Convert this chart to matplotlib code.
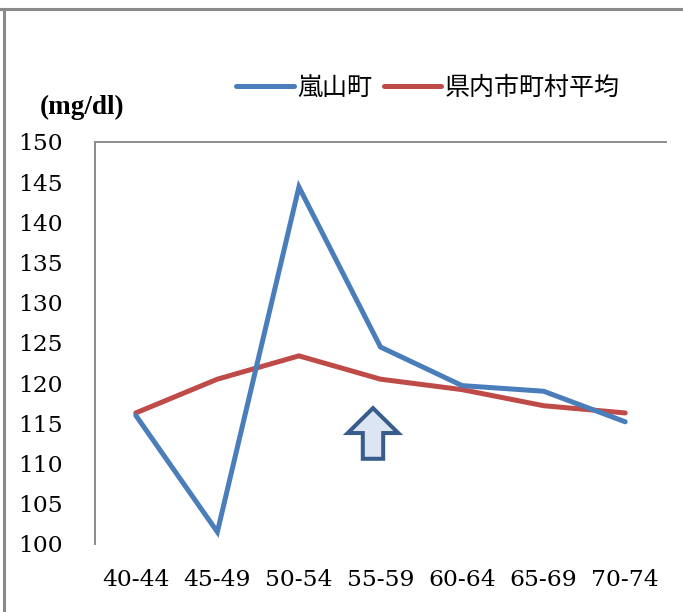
import matplotlib
matplotlib.use("Agg")
import matplotlib.pyplot as plt
from matplotlib.lines import Line2D
from matplotlib.patches import Polygon

# Age groups and average values (mg/dl)
age_groups = ["40-44", "45-49", "50-54", "55-59", "60-64", "65-69", "70-74"]
ranzan = [116.0, 101.5, 144.4, 124.5, 119.7, 119.0, 115.2]
pref_avg = [116.3, 120.5, 123.4, 120.5, 119.2, 117.2, 116.3]
series_names = ["嵐山町", "県内市町村平均"]
y_ticks = [100, 105, 110, 115, 120, 125, 130, 135, 140, 145, 150]
unit_label = "(mg/dl)"

W, H = 683, 612
fig = plt.figure(figsize=(W / 100, H / 100), dpi=100)
fig.patch.set_facecolor("white")

# outer chart frame (top and left edges)
frame_c = "#8a8a8a"
fig.add_artist(Line2D([0, 1], [1 - 9 / H, 1 - 9 / H], transform=fig.transFigure,
                      color=frame_c, lw=2.2))
fig.add_artist(Line2D([4 / W, 4 / W], [0, 1 - 9 / H], transform=fig.transFigure,
                      color=frame_c, lw=2.2))

left, right, top, bottom = 95, 666, 142, 544
ax = fig.add_axes([left / W, 1 - bottom / H, (right - left) / W, (bottom - top) / H])

x = list(range(len(age_groups)))
blue = "#4a7ebb"
red = "#be4b48"
l1, = ax.plot(x, ranzan, color=blue, lw=3.6, solid_joinstyle="miter",
              solid_capstyle="round", zorder=3)
l2, = ax.plot(x, pref_avg, color=red, lw=3.6, solid_joinstyle="miter",
              solid_capstyle="round", zorder=2)

ax.set_xlim(-0.5, len(age_groups) - 0.5)
ax.set_ylim(100, 150)
ax.set_yticks(y_ticks)
ax.set_xticks(x)
ax.set_xticklabels(age_groups)

for lab in ax.get_yticklabels() + ax.get_xticklabels():
    lab.set_fontfamily(["DejaVu Serif"])
    lab.set_fontsize(16.8)
    lab.set_color("black")
ax.tick_params(axis="y", length=0, pad=23)
ax.tick_params(axis="x", length=0, pad=18)

for side in ["right", "bottom"]:
    ax.spines[side].set_visible(False)
for side in ["left", "top"]:
    ax.spines[side].set_color("#8c8c8c")
    ax.spines[side].set_linewidth(1.4)

# upward block arrow marker
ax_c = 2.908
hw, sw = 0.31, 0.125
tip, base, foot = 116.9, 113.8, 110.6
arrow_pts = [(ax_c, tip), (ax_c + hw, base), (ax_c + sw, base), (ax_c + sw, foot),
             (ax_c - sw, foot), (ax_c - sw, base), (ax_c - hw, base)]
ax.add_patch(Polygon(arrow_pts, closed=True, facecolor="#dce6f2",
                     edgecolor="#385d8a", lw=2.9, joinstyle="miter", zorder=4))

# legend
leg = fig.legend([l1, l2], series_names, loc="center left",
                 bbox_to_anchor=(236 / W, 1 - 88 / H), ncol=2, frameon=False,
                 handlelength=2.3, handletextpad=0.15, columnspacing=0.45,
                 borderpad=0, borderaxespad=0,
                 prop={"family": ["Noto Sans CJK JP"], "size": 18})
for h in leg.get_lines():
    h.set_linewidth(3.6)
    h.set_solid_capstyle("round")

fig.text(40 / W, 1 - 107 / H, unit_label, fontfamily=["Liberation Serif"],
         fontweight="bold", fontsize=19.5, va="center", ha="left")

fig.savefig("out.png", dpi=100, facecolor="white")
